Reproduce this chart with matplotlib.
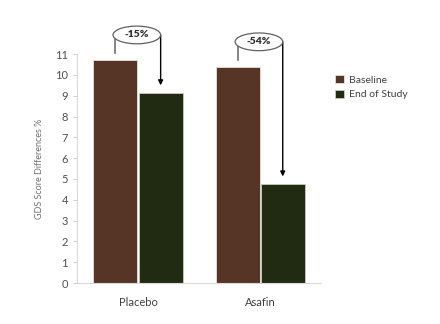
import matplotlib.pyplot as plt
from matplotlib.patches import Ellipse
import numpy as np

categories = ['Placebo', 'Asafin']
baseline = [10.72, 10.4]
end_of_study = [9.15, 4.77]
changes = ['-15%', '-54%']

plt.rcParams['font.family'] = ['Lato', 'DejaVu Sans']

fig = plt.figure(figsize=(4.4, 3.24), dpi=100)
ax = fig.add_axes([0.175, 0.1265, 0.555, 0.7065])

x = np.arange(len(categories))
w = 0.36
off = 0.185
ax.bar(x - off, baseline, w, color='#573526', edgecolor='#e8e0dc', linewidth=0.6, label='Baseline')
ax.bar(x + off, end_of_study, w, color='#212b12', edgecolor='#c8ccc0', linewidth=0.6, label='End of Study')

ax.set_xlim(-0.5, 1.5)
ax.set_ylim(0, 11)
ax.set_yticks(range(0, 12))
ax.set_xticks(x)
ax.set_xticklabels(categories, fontsize=8, color='#404040')
ax.tick_params(axis='y', labelsize=8, labelcolor='#505050', color='#d0d0d0', length=3)
ax.tick_params(axis='x', length=0, pad=10)
for s in ['top', 'right']:
    ax.spines[s].set_visible(False)
for s in ['left', 'bottom']:
    ax.spines[s].set_color('#d9d9d9')
ax.set_ylabel('GDS Score Differences %', fontsize=6.5, color='#707070', labelpad=8)

# brackets with percent change
tops = [11.92, 11.59]
for i in range(len(categories)):
    top = tops[i]
    ax.plot([x[i] - off, x[i] - off], [baseline[i] + 0.33, top], color='#707070', lw=1.2, clip_on=False)
    ax.annotate('', xy=(x[i] + off, end_of_study[i] + 0.35), xytext=(x[i] + off, top),
                arrowprops=dict(arrowstyle='-|>', color='black', lw=1.0, mutation_scale=7,
                                shrinkA=0, shrinkB=0),
                annotation_clip=False)
    ax.add_patch(Ellipse((x[i] - 0.01, top), 2 * off + 0.02, 0.85, fc='white', ec='#606060',
                         lw=0.9, clip_on=False, zorder=5))
    ax.text(x[i] - 0.01, top, changes[i], ha='center', va='center', fontsize=7.5, fontweight='heavy',
            color='#303030', zorder=6)

ax.legend(loc='upper left', bbox_to_anchor=(1.02, 0.95), frameon=False, fontsize=7.5,
          handlelength=0.8, handleheight=0.8, handletextpad=0.5, labelcolor='#404040')

fig.savefig('out.png', dpi=100)
